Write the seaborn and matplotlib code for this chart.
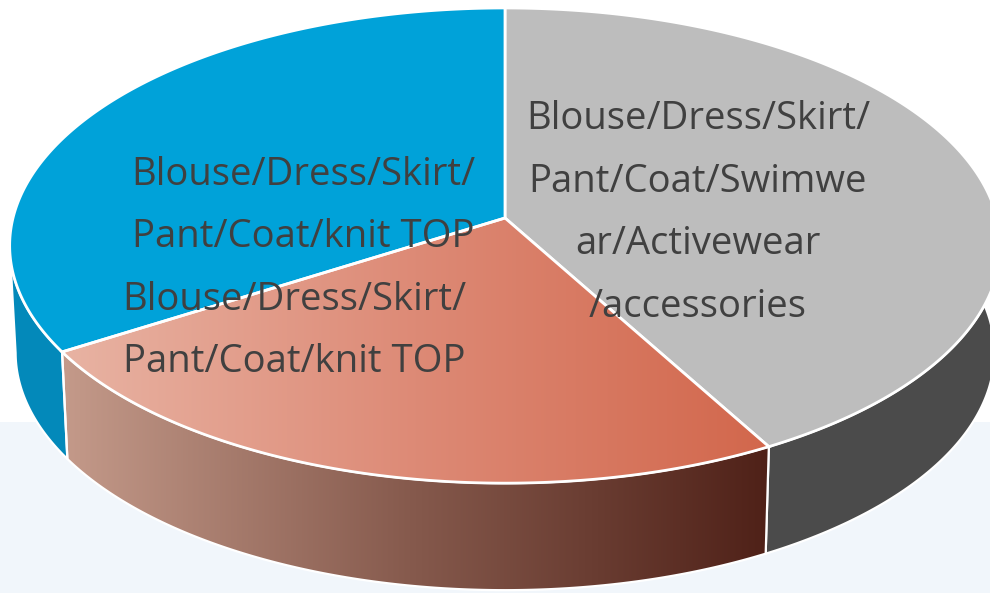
import matplotlib.pyplot as plt
from matplotlib.colors import LinearSegmentedColormap
from matplotlib.patches import Polygon
import numpy as np
import seaborn as sns

# shares of the pie, clockwise from the top
shares = [42, 24, 34]
top_colors = ['#bdbdbd', None, '#00a2d9']
wall_colors = ['#4b4b4b', None, '#0389ba']

# red slice is a left to right gradient
red_top = ['#e8b3a3', '#dd8a76', '#d2674c']
red_wall = ['#c49a8a', '#85594c', '#4f2118']

labels = ['Blouse/Dress/Skirt/\nPant/Coat/Swimwe\nar/Activewear\n/accessories',
          'Blouse/Dress/Skirt/\nPant/Coat/knit TOP',
          'Blouse/Dress/Skirt/\nPant/Coat/knit TOP']
label_pos = [(698, 213), (294, 331), (303, 206)]

sns.set_theme(style='white')
plt.rcParams['font.family'] = ['Open Sans', 'DejaVu Sans']

# geometry of the tilted disc, in pixels
cx, cy = 505, 218
rx, ry = 492, 234.4
tilt = 0.116
depth = 107
shrink = 0.988


def project(theta):
    # unit circle seen in perspective, so the apex sits above the ellipse centre
    u, v = np.cos(theta), np.sin(theta)
    w = 1 + tilt * v
    return cx + rx * u / w, cy - ry * v / w


def arc(t1, t2):
    return project(np.radians(np.linspace(t1, t2, 300)))


fig, ax = plt.subplots(figsize=(9.9, 5.93), dpi=100)
fig.subplots_adjust(0, 0, 1, 1)

# pie gives the angle of every slice
wedges, _ = ax.pie(shares, startangle=90, counterclock=False)
angles = [(w.theta1, w.theta2) for w in wedges]
for w in wedges:
    w.remove()

ax.set_aspect('auto')
ax.set_xlim(0, 990)
ax.set_ylim(593, 0)
ax.axis('off')

# pale band behind the lower part
ax.axhspan(422, 593, color='#f1f6fb', zorder=0, lw=0)


def fill(points, color, z, cmap=None, lw=2):
    if cmap is None:
        ax.add_patch(Polygon(points, fc=color, ec='white', lw=lw, zorder=z))
        return
    poly = Polygon(points, fc='none', ec='none', zorder=z)
    ax.add_patch(poly)
    grad = np.linspace(0, 1, 256).reshape(1, -1)
    x0, x1 = points[:, 0].min(), points[:, 0].max()
    y0, y1 = points[:, 1].min(), points[:, 1].max()
    im = ax.imshow(grad, cmap=cmap, extent=(x0, x1, y1, y0), aspect='auto',
                   zorder=z, interpolation='bilinear')
    im.set_clip_path(poly)
    ax.add_patch(Polygon(points, fc='none', ec='white', lw=lw, zorder=z + 0.1))


top_cmap = LinearSegmentedColormap.from_list('red_top', red_top)
wall_cmap = LinearSegmentedColormap.from_list('red_wall', red_wall)

# only the front of the rim has a wall: leftmost point round to rightmost point
sweep = np.linspace(0, 360, 1441)
sx, _ = project(np.radians(sweep))
left = sweep[np.argmin(sx)]
right = sweep[np.argmax(sx)] + 360

for i, (t1, t2) in enumerate(angles):
    # pie angles can start below zero, keep them in the same turn as the front
    t1, t2 = (t1 + 360) % 360, (t2 + 360) % 360
    if t2 <= t1:
        t2 += 360
    lo, hi = max(t1, left), min(t2, right)
    if lo >= hi:
        lo, hi = max(t1 + 360, left), min(t2 + 360, right)
    x, y = arc(lo, hi)
    xb = cx + (x - cx) * shrink
    yb = y + depth
    pts = np.column_stack([np.r_[x, xb[::-1]], np.r_[y, yb[::-1]]])
    fill(pts, wall_colors[i], 2, wall_cmap if wall_colors[i] is None else None, lw=1.6)

for i, (t1, t2) in enumerate(angles):
    x, y = arc(t1, t2)
    pts = np.column_stack([np.r_[cx, x], np.r_[cy, y]])
    fill(pts, top_colors[i], 3, top_cmap if top_colors[i] is None else None, lw=2)

ax.set_xlim(0, 990)
ax.set_ylim(593, 0)

for text, (x, y) in zip(labels, label_pos):
    ax.text(x, y, text, ha='center', va='center', fontsize=27.5, color='#404040',
            linespacing=1.84, zorder=5)

plt.savefig('out.png', dpi=100)
plt.close()
